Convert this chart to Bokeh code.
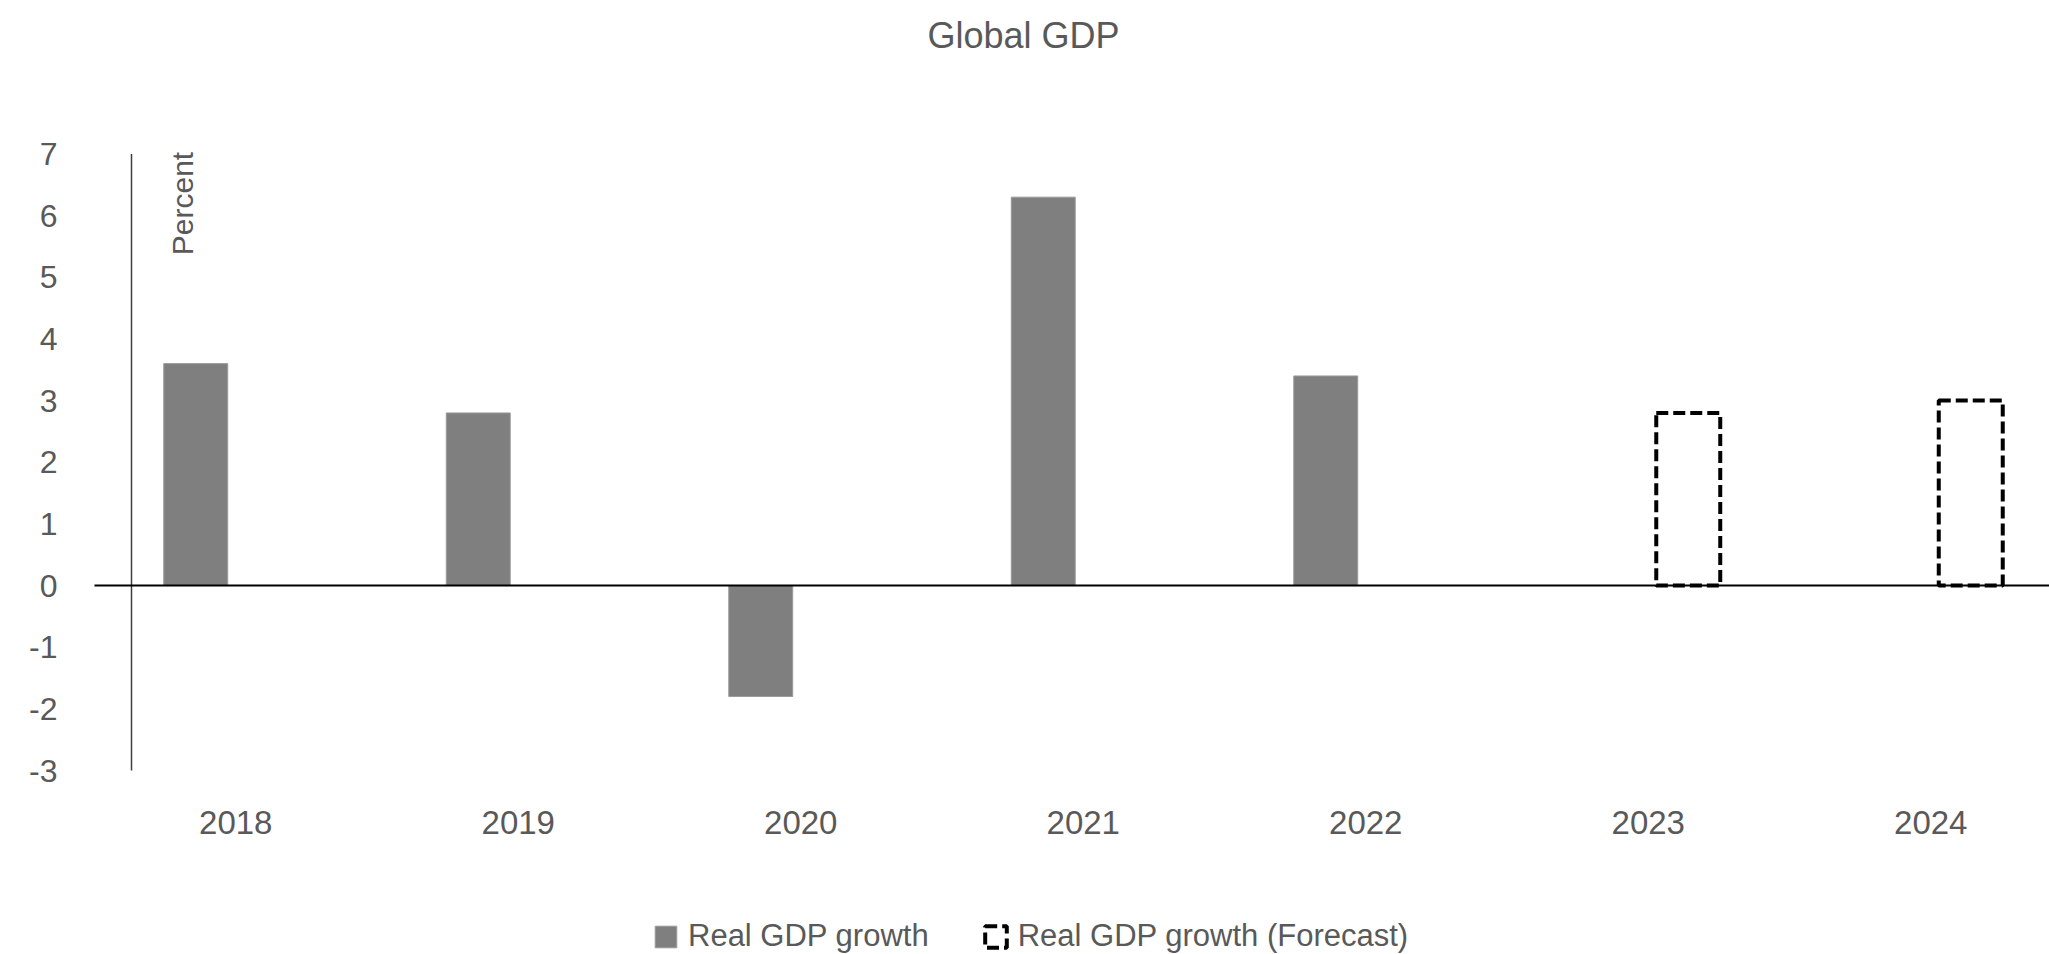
import math
from bokeh.plotting import figure
from bokeh.models import (Range1d, FixedTicker, Label, Legend, LegendItem,
                          ColumnDataSource)
from bokeh.core.properties import value
from bokeh.embed import file_html
from bokeh.resources import INLINE

# ---- data ----
years = ["2018", "2019", "2020", "2021", "2022", "2023", "2024"]
actual_years = ["2018", "2019", "2020", "2021", "2022"]
actual_growth = [3.6, 2.8, -1.8, 6.3, 3.4]
forecast_years = ["2023", "2024"]
forecast_growth = [2.8, 3.0]
y_ticks = [-3, -2, -1, 0, 1, 2, 3, 4, 5, 6, 7]
y_tick_labels = ["-3", "-2", "-1", "0", "1", "2", "3", "4", "5", "6", "7"]

FONT = "Liberation Sans"
TEXT = "#595959"
DODGE = 0.1416
BAR_W = 0.2265
W, H = 2049, 954
PX_PER_UNIT = 61.65   # vertical pixels per percentage point
PX_PER_CAT = 282.5    # horizontal pixels per category
AXIS_PX = 94          # pixel column of the value axis
Y_TOP_PX = 153.5      # pixel row of the value 7
Y_BOT_PX = 770.0      # pixel row of the value -3
X_START = -0.5        # left edge of the first category
Y_MIN, Y_MAX = y_ticks[0], y_ticks[-1]
x_lo = X_START - AXIS_PX / PX_PER_CAT
RULE_NUDGE_PX = 37    # observed left drift of the rule in the rendered page
CAPTION_NUDGE_PX = 34

p = figure(width=W, height=H, output_backend="svg", toolbar_location=None,
           x_range=Range1d(x_lo, x_lo + W / PX_PER_CAT),
           y_range=Range1d(Y_MIN - (H - Y_BOT_PX) / PX_PER_UNIT,
                           Y_MAX + Y_TOP_PX / PX_PER_UNIT),
           min_border_left=0, min_border_right=0, min_border_top=0,
           min_border_bottom=0)
p.outline_line_color = None
p.xgrid.visible = False
p.ygrid.visible = False
p.yaxis.visible = False
p.background_fill_color = "white"
p.border_fill_color = "white"

src_a = ColumnDataSource(dict(
    x=[years.index(y) - DODGE for y in actual_years], top=actual_growth))
src_f = ColumnDataSource(dict(
    x=[years.index(y) + DODGE for y in forecast_years], top=forecast_growth))

r1 = p.vbar(x="x", top="top", bottom=0, width=BAR_W, source=src_a,
            fill_color="#7f7f7f", line_color="#9c9c9c", line_width=1)
r2 = p.vbar(x="x", top="top", bottom=0, width=BAR_W, source=src_f,
            fill_color=None, line_color="black", line_width=4, line_dash="12 5")

# value axis: rule, tick labels and zero baseline
rule_x = X_START + RULE_NUDGE_PX / PX_PER_CAT
p.segment(x0=[rule_x], y0=[Y_MIN], x1=[rule_x], y1=[Y_MAX],
          line_color="#404040", line_width=1.5)
p.text(x=[X_START - 37 / PX_PER_CAT] * len(y_ticks), y=y_ticks, text=y_tick_labels,
       text_align="right", text_baseline="middle", text_font=value(FONT),
       text_font_size="32px", text_color=TEXT)
p.ray(x=[X_START], y=[0], length=0, angle=0, line_color="black", line_width=2)

# x axis, labels drawn under the bottom of the value range
xa = p.xaxis[0]
xa.fixed_location = Y_MIN
xa.ticker = FixedTicker(ticks=list(range(len(years))))
xa.major_label_overrides = {i: y for i, y in enumerate(years)}
xa.axis_line_color = None
xa.major_tick_line_color = None
xa.minor_tick_line_color = None
xa.major_tick_out = 0
xa.major_label_standoff = 40
xa.major_label_text_font = FONT
xa.major_label_text_font_size = "33px"
xa.major_label_text_color = TEXT

# title
p.add_layout(Label(x=1023, y=H - 35, x_units="screen", y_units="screen",
                   text="Global GDP", text_align="center", text_baseline="middle",
                   text_font=FONT, text_font_size="36px", text_color=TEXT))
# axis caption, just right of the value axis near its top
p.text(x=[X_START + (54 + CAPTION_NUDGE_PX) / PX_PER_CAT],
       y=[Y_MAX - (203 - Y_TOP_PX) / PX_PER_UNIT],
       text=["Percent"], angle=math.pi / 2, text_align="center",
       text_baseline="middle", text_font=value(FONT), text_font_size="30px",
       text_color=TEXT)

legend = Legend(items=[LegendItem(label="Real GDP growth", renderers=[r1]),
                       LegendItem(label="Real GDP growth (Forecast)", renderers=[r2])],
                orientation="horizontal", location=(652, 0),
                border_line_color=None, background_fill_alpha=0,
                padding=0, margin=0, spacing=53, label_standoff=9,
                glyph_width=27, glyph_height=27,
                label_text_font=FONT, label_text_font_size="31px",
                label_text_color=TEXT)
p.add_layout(legend)

open("out.html", "w").write(file_html(p, INLINE))
